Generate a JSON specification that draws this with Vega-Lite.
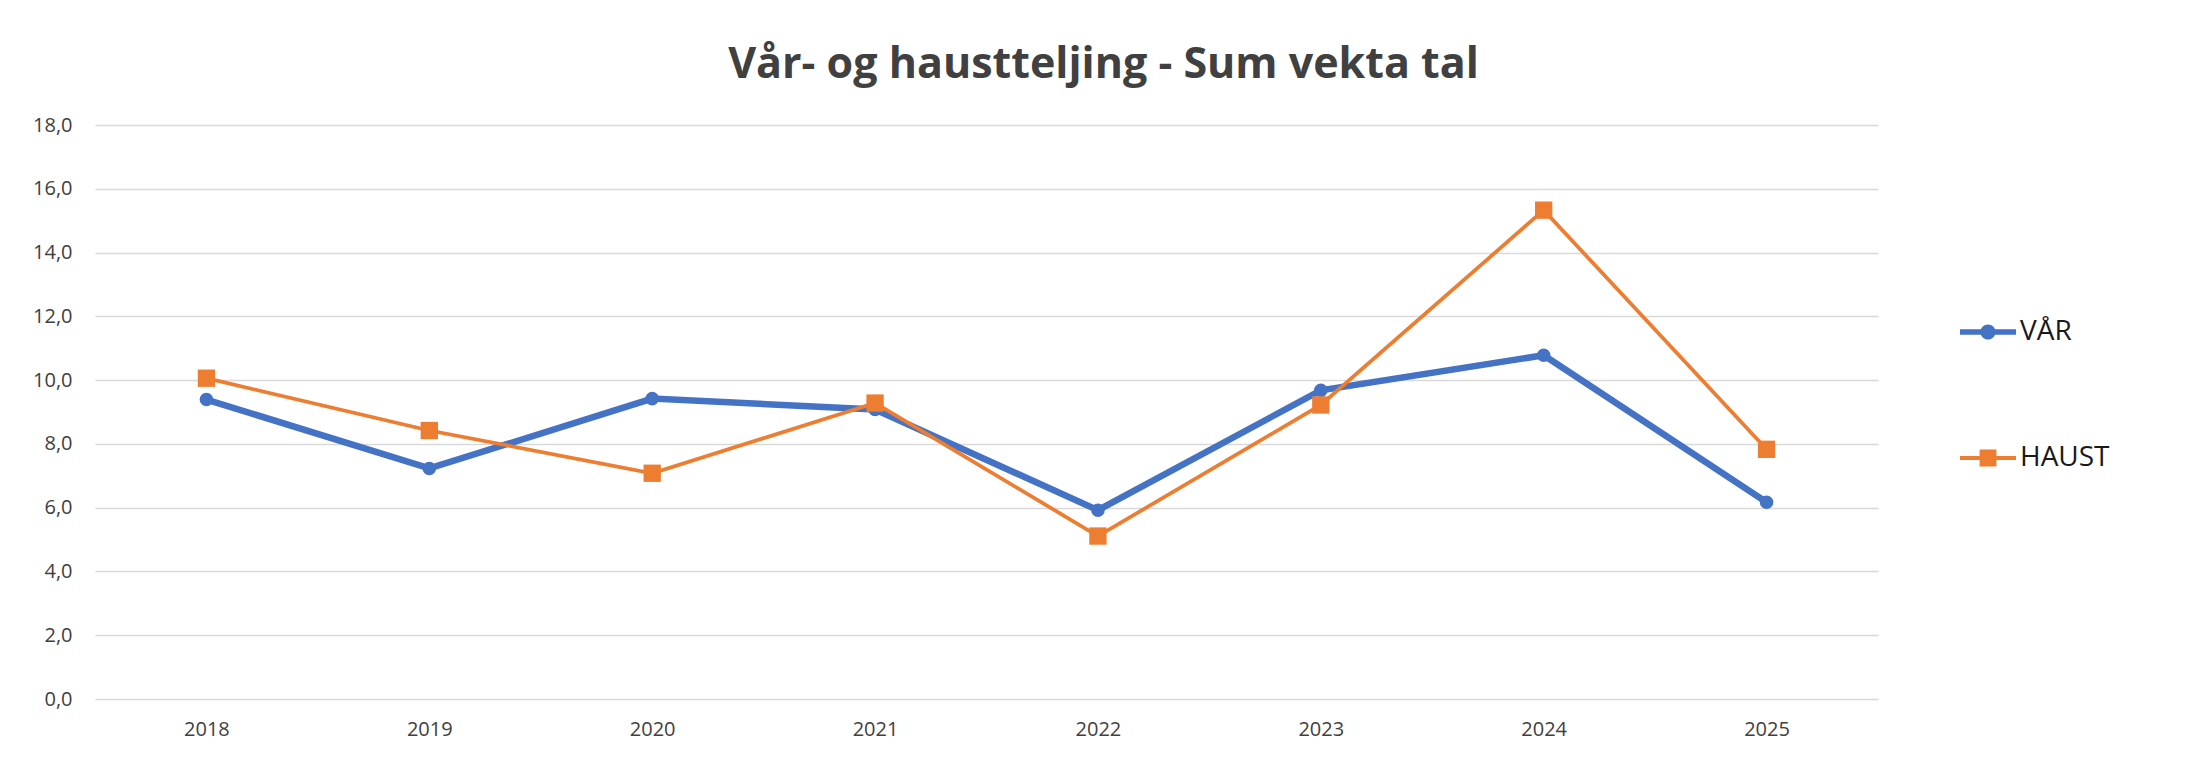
{
  "$schema": "https://vega.github.io/schema/vega-lite/v6.json",
  "autosize": {"type": "none"},
  "width": 1783,
  "height": 574,
  "padding": {"left": 95, "top": 125, "right": 322, "bottom": 58},
  "background": "white",
  "config": {"view": {"stroke": null}},
  "title": {
    "text": "Vår- og haustteljing - Sum vekta tal",
    "font": "Open Sans",
    "fontSize": 43,
    "fontWeight": "bold",
    "color": "#404040",
    "anchor": "middle",
    "frame": "group",
    "dx": 117,
    "baseline": "alphabetic",
    "offset": -6
  },
  "data": {
    "values": [
      {"year": "2018", "serie": "VÅR", "value": 9.39},
      {"year": "2019", "serie": "VÅR", "value": 7.23},
      {"year": "2020", "serie": "VÅR", "value": 9.42},
      {"year": "2021", "serie": "VÅR", "value": 9.08},
      {"year": "2022", "serie": "VÅR", "value": 5.92},
      {"year": "2023", "serie": "VÅR", "value": 9.68},
      {"year": "2024", "serie": "VÅR", "value": 10.78},
      {"year": "2025", "serie": "VÅR", "value": 6.17},
      {"year": "2018", "serie": "HAUST", "value": 10.06},
      {"year": "2019", "serie": "HAUST", "value": 8.42},
      {"year": "2020", "serie": "HAUST", "value": 7.08},
      {"year": "2021", "serie": "HAUST", "value": 9.28},
      {"year": "2022", "serie": "HAUST", "value": 5.11},
      {"year": "2023", "serie": "HAUST", "value": 9.22},
      {"year": "2024", "serie": "HAUST", "value": 15.33},
      {"year": "2025", "serie": "HAUST", "value": 7.83}
    ]
  },
  "encoding": {
    "x": {
      "field": "year",
      "type": "ordinal",
      "scale": {"type": "point", "padding": 0.5},
      "axis": {
        "title": null,
        "labelAngle": 0,
        "grid": false,
        "domain": false,
        "ticks": false,
        "labelFont": "Open Sans",
        "labelFontSize": 20,
        "labelColor": "#404040",
        "labelPadding": 20
      }
    },
    "y": {
      "field": "value",
      "type": "quantitative",
      "scale": {"domain": [0, 18], "nice": false},
      "axis": {
        "title": null,
        "values": [0, 2, 4, 6, 8, 10, 12, 14, 16, 18],
        "labelExpr": "replace(format(datum.value, '.1f'), '.', ',')",
        "grid": true,
        "gridColor": "#d9d9d9",
        "gridWidth": 1.5,
        "domain": false,
        "ticks": false,
        "labelFont": "Open Sans",
        "labelFontSize": 20,
        "labelColor": "#404040",
        "labelPadding": 23
      }
    }
  },
  "layer": [
    {
      "transform": [{"filter": "datum.serie === 'VÅR'"}],
      "mark": {"type": "line", "strokeWidth": 6.5},
      "encoding": {
        "color": {
          "field": "serie",
          "type": "nominal",
          "scale": {"domain": ["VÅR", "HAUST"], "range": ["#4472C4", "#ED7D31"]},
          "legend": {
            "orient": "none",
            "legendX": 1865,
            "legendY": 179,
            "title": null,
            "labelFont": "Open Sans",
            "labelFontSize": 28,
            "labelColor": "#1a1a1a",
            "symbolSize": 3136,
            "rowPadding": 84,
            "labelOffset": 4,
            "padding": 0,
            "symbolStrokeWidth": 0,
            "encode": {
              "symbols": {
                "update": {
                  "shape": {"signal": "datum.value === 'VÅR' ? 'M-1,-0.1H1V0.1H-1Z M0.27,0A0.27,0.27,0,1,1,-0.27,0A0.27,0.27,0,1,1,0.27,0Z' : 'M-1,-0.07H1V0.07H-1Z M-0.3,-0.3H0.3V0.3H-0.3Z'"},
                  "fill": {"signal": "datum.value === 'VÅR' ? '#4472C4' : '#ED7D31'"},
                  "strokeWidth": {"value": 0},
                  "opacity": {"value": 1}
                }
              }
            }
          }
        }
      }
    },
    {
      "transform": [{"filter": "datum.serie === 'VÅR'"}],
      "mark": {"type": "point", "filled": true, "opacity": 1, "shape": "circle", "size": 185, "color": "#4472C4"}
    },
    {
      "transform": [{"filter": "datum.serie === 'HAUST'"}],
      "mark": {"type": "line", "strokeWidth": 3.75},
      "encoding": {
        "color": {"field": "serie", "type": "nominal"}
      }
    },
    {
      "transform": [{"filter": "datum.serie === 'HAUST'"}],
      "mark": {"type": "point", "filled": true, "opacity": 1, "shape": "square", "size": 300, "color": "#ED7D31"}
    }
  ]
}
